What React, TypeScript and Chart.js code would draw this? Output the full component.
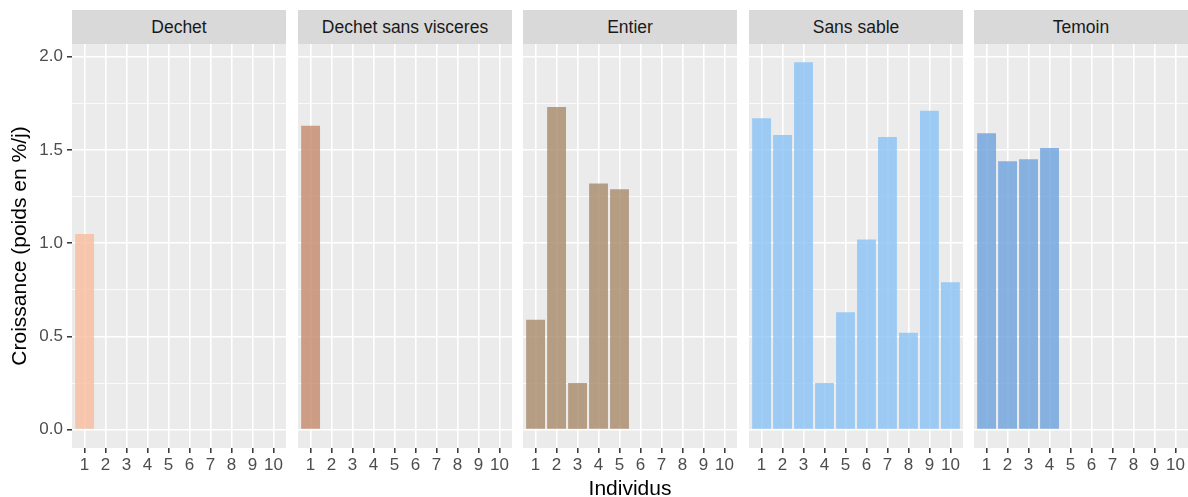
import React, { useEffect, useRef } from "react";
import { Chart, registerables } from "chart.js";

Chart.register(...registerables);

// ---- Data ----
const facets = ["Dechet", "Dechet sans visceres", "Entier", "Sans sable", "Temoin"];
const dechet = [1.05];
const dechetSansVisceres = [1.63];
const entier = [0.59, 1.73, 0.25, 1.32, 1.29];
const sansSable = [1.67, 1.58, 1.97, 0.25, 0.63, 1.02, 1.57, 0.52, 1.71, 0.79];
const temoin = [1.59, 1.44, 1.45, 1.51];
const facetValues = [dechet, dechetSansVisceres, entier, sansSable, temoin];
const facetColors = [
  "rgba(248,188,159,0.8)",
  "rgba(197,136,107,0.8)",
  "rgba(167,137,106,0.8)",
  "rgba(137,194,245,0.8)",
  "rgba(109,161,220,0.8)",
];
const individusRange = [1, 10];
const yTitle = "Croissance (poids en %/j)";
const xTitle = "Individus";

const FONT = "'Liberation Sans', Arial, Helvetica, sans-serif";
const allMax = Math.max(...facetValues.flat());
const yMin = -allMax * 0.05;
const yMax = allMax * 1.05;

const PANEL_W = 214;
const PANEL_TOP = 44;
const PANEL_H = 404;
const AXIS_H = 30;
const YAXIS_W = 72;
const panelLefts = [0, 1, 2, 3, 4].map((i) => Math.round(72 + i * 225.5));

const bgPlugin = {
  id: "panelBg",
  beforeDraw(chart: any) {
    const { ctx, chartArea } = chart;
    ctx.save();
    ctx.fillStyle = "#ebebeb";
    ctx.fillRect(chartArea.left, chartArea.top, chartArea.right - chartArea.left, chartArea.bottom - chartArea.top);
    ctx.restore();
  },
};

function Panel({ index }: { index: number }) {
  const ref = useRef<HTMLCanvasElement>(null);
  const first = index === 0;
  const width = PANEL_W + (first ? YAXIS_W : 0);
  const left = panelLefts[index] - (first ? YAXIS_W : 0);
  useEffect(() => {
    const values = facetValues[index];
    const isMajor = (v: number) => Math.abs(v / 0.5 - Math.round(v / 0.5)) < 1e-6;
    const chart = new Chart(ref.current as HTMLCanvasElement, {
      type: "bar",
      data: {
        datasets: [
          {
            label: facets[index],
            data: values.map((v, i) => ({ x: i + 1, y: v })),
            backgroundColor: facetColors[index],
            borderWidth: 0,
            barPercentage: 0.9,
            categoryPercentage: 1,
          },
        ],
      },
      plugins: [bgPlugin],
      options: {
        animation: false,
        responsive: false,
        devicePixelRatio: 1,
        layout: { padding: 0 },
        plugins: { legend: { display: false }, tooltip: { enabled: false }, title: { display: false } },
        scales: {
          x: {
            type: "linear",
            offset: false,
            min: individusRange[0] - 0.6,
            max: individusRange[1] + 0.6,
            ticks: {
              stepSize: 1,
              includeBounds: false,
              autoSkip: false,
              maxRotation: 0,
              font: { family: FONT, size: 17 },
              color: "#4d4d4d",
              padding: 2,
            },
            grid: {
              offset: false,
              color: "#ffffff",
              lineWidth: 1.6,
              tickLength: 5,
              tickColor: "#333333",
              tickWidth: 1.5,
            },
            border: { display: false },
            afterFit: (s: any) => {
              s.height = AXIS_H;
              s.paddingLeft = 0;
              s.paddingRight = 0;
            },
          } as any,
          y: {
            type: "linear",
            min: yMin,
            max: yMax,
            ticks: {
              display: first,
              stepSize: 0.25,
              includeBounds: false,
              autoSkip: false,
              font: { family: FONT, size: 17 },
              color: "#4d4d4d",
              padding: 4,
              callback: (v: any) => (isMajor(Number(v)) ? Number(v).toFixed(1) : ""),
            },
            grid: {
              color: "#ffffff",
              lineWidth: (c: any) => (c.tick && isMajor(c.tick.value) ? 1.6 : 0.8),
              drawTicks: first,
              tickLength: 5,
              tickColor: (c: any) => (c.tick && isMajor(c.tick.value) ? "#333333" : "rgba(0,0,0,0)"),
              tickWidth: 1.5,
            },
            border: { display: false },
            title: {
              display: first,
              text: yTitle,
              color: "#000000",
              font: { family: FONT, size: 21 },
              padding: { top: 8, bottom: 0 },
            },
            afterFit: (s: any) => {
              s.width = first ? YAXIS_W : 0;
              s.paddingTop = 0;
              s.paddingBottom = 0;
            },
          } as any,
        },
      },
    });
    return () => chart.destroy();
  }, [index]);
  return (
    <>
      <div
        style={{
          position: "absolute",
          left: panelLefts[index],
          top: 10,
          width: PANEL_W,
          height: PANEL_TOP - 10,
          background: "#d9d9d9",
          color: "#1a1a1a",
          fontFamily: FONT,
          fontSize: 17.5,
          lineHeight: `${PANEL_TOP - 10}px`,
          textAlign: "center",
          whiteSpace: "nowrap",
        }}
      >
        {facets[index]}
      </div>
      <canvas
        ref={ref}
        width={width}
        height={PANEL_H + AXIS_H}
        style={{ position: "absolute", left, top: PANEL_TOP, width, height: PANEL_H + AXIS_H }}
      />
    </>
  );
}

export default function App() {
  return (
    <div
      style={{
        position: "absolute",
        left: 0,
        top: 0,
        width: 1188,
        height: 497,
        background: "#ffffff",
        overflow: "hidden",
      }}
    >
      {facets.map((_, i) => (
        <Panel key={i} index={i} />
      ))}
      <div
        style={{
          position: "absolute",
          left: 72,
          top: 476,
          width: 1188 - 72,
          height: 24,
          lineHeight: "24px",
          textAlign: "center",
          fontFamily: FONT,
          fontSize: 21,
          color: "#000000",
        }}
      >
        {xTitle}
      </div>
    </div>
  );
}
